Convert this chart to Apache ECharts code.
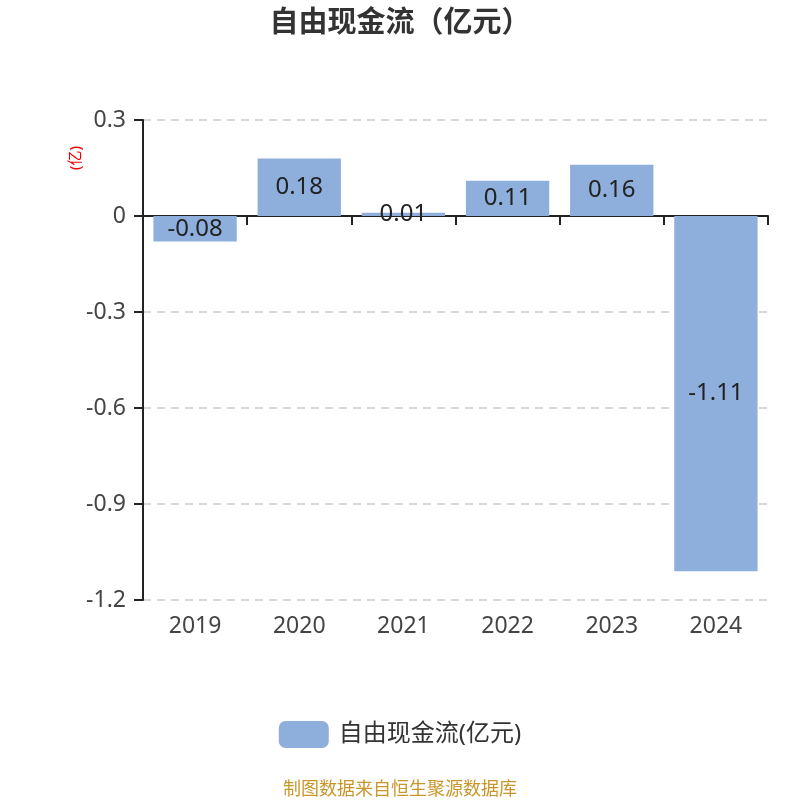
<!DOCTYPE html>
<html>
<head>
<meta charset="utf-8">
<script src="https://cdn.jsdelivr.net/npm/echarts@6/dist/echarts.min.js"></script>
<style>
  html, body { margin: 0; padding: 0; background: #fff; }
  #chart { width: 800px; height: 800px; }
</style>
</head>
<body>
<div id="chart"></div>
<script>
// 年份与自由现金流（亿元）
const years = ['2019', '2020', '2021', '2022', '2023', '2024'];
const freeCashFlow = [-0.08, 0.18, 0.01, 0.11, 0.16, -1.11];
const seriesName = '自由现金流(亿元)';

const font = '"Noto Sans", "Noto Sans CJK SC", sans-serif';
const chart = echarts.init(document.getElementById('chart'));

chart.setOption({
  backgroundColor: '#fff',
  animation: false,
  textStyle: { fontFamily: font },
  title: {
    text: '自由现金流（亿元）',
    left: 'center',
    top: 4,
    textStyle: { fontSize: 29, fontWeight: 'bold', color: '#333', fontFamily: font },
  },
  grid: { left: 143, right: 32, top: 120, bottom: 200 },
  legend: {
    bottom: 47,
    left: 'center',
    itemWidth: 50,
    itemHeight: 27,
    itemGap: 10,
    textStyle: { fontSize: 24, color: '#333', fontFamily: font, padding: [0, 0, 0, 5] },
    data: [{ name: seriesName, icon: 'roundRect' }],
  },
  graphic: [
    {
      type: 'text',
      left: 'center',
      bottom: 1,
      style: { text: '制图数据来自恒生聚源数据库', fill: '#c8962a', fontSize: 18, fontFamily: font },
    },
    {
      type: 'text',
      x: 68,
      y: 170,
      rotation: Math.PI / 2,
      style: { text: '(亿)', fill: '#e00', fontSize: 15, fontFamily: font },
    },
  ],
  xAxis: [
    {
      type: 'category',
      data: years,
      position: 'bottom',
      axisLine: { show: false, onZero: false },
      axisTick: { show: false },
      axisLabel: { fontSize: 23, color: '#444', margin: 15 },
    },
    {
      type: 'category',
      data: years,
      position: 'bottom',
      axisLine: { show: true, onZero: true, lineStyle: { color: '#222', width: 2 } },
      axisTick: { show: true, length: 9, lineStyle: { color: '#222', width: 2 } },
      axisLabel: { show: false },
    },
  ],
  yAxis: {
    type: 'value',
    min: -1.2,
    max: 0.3,
    interval: 0.3,
    axisLine: { show: true, lineStyle: { color: '#222', width: 2 } },
    axisTick: { show: true, length: 9, lineStyle: { color: '#222', width: 2 } },
    axisLabel: {
      fontSize: 23,
      color: '#444',
      margin: 17,
      formatter: v => String(Math.round(v * 10) / 10),
    },
    splitLine: { show: true, lineStyle: { color: '#ccc', type: [8, 6], width: 1.5 } },
  },
  series: [{
    name: seriesName,
    type: 'bar',
    data: freeCashFlow,
    barWidth: '80%',
    itemStyle: { color: '#8eaedb' },
    label: {
      show: true,
      position: 'inside',
      fontSize: 24,
      color: '#222',
      fontFamily: font,
    },
  }],
});
</script>
</body>
</html>
